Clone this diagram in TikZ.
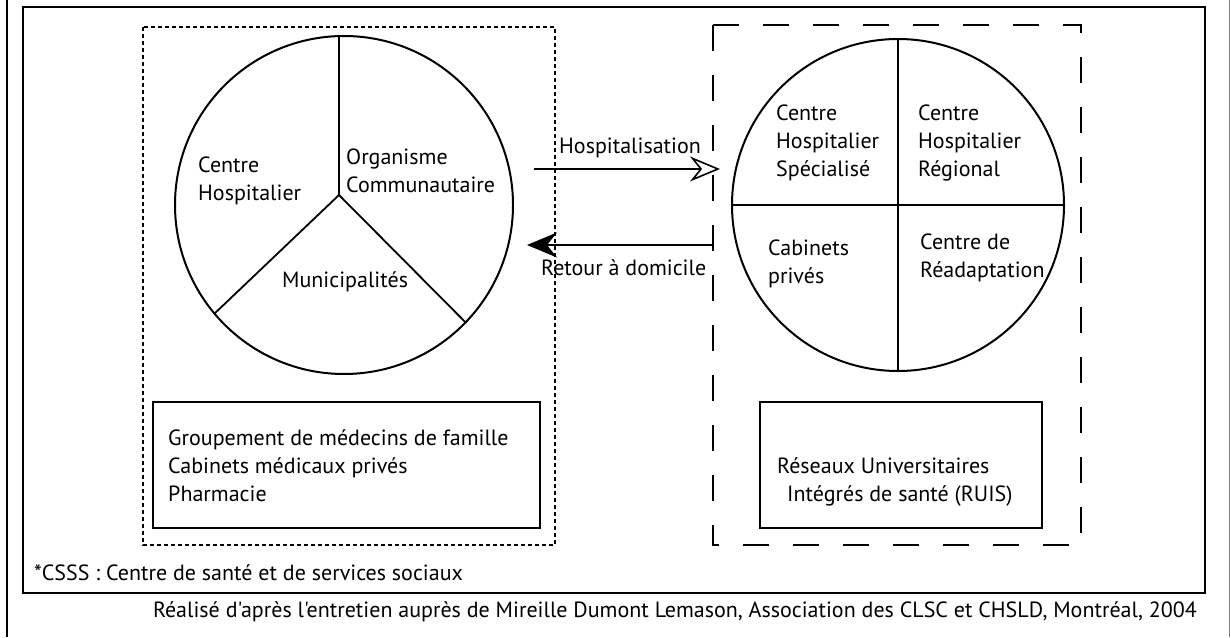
\documentclass[tikz,border=0pt]{standalone}
\usepackage{fontspec}
\newfontfamily\txtfont{PT Sans}
\usetikzlibrary{arrows.meta}
\newcommand{\lblfont}{\txtfont\fontsize{22}{28}\selectfont}
\tikzset{
  frame/.style={line width=2.2pt},
  pie/.style={draw, circle, line width=2pt, inner sep=0pt},
  divider/.style={line width=1.8pt},
  lbl/.style={anchor=west, align=left, inner sep=0pt, font=\lblfont},
  listbox/.style={draw, line width=1.8pt, inner sep=0pt},
  dotbox/.style={line width=2pt, dash pattern=on 4pt off 3pt},
  dashbox/.style={line width=2pt, dash pattern=on 26pt off 24pt},
  flow/.style={line width=2pt},
}
\begin{document}
\begin{tikzpicture}[x=1pt,y=-1pt]
\useasboundingbox (0,0) rectangle (1231,637);
% outer lines
\draw[line width=2pt] (7,0) -- (7,637);
\draw[line width=1pt, gray] (1229.5,0) -- (1229.5,637);
% inner frame
\draw[frame] (23,7) rectangle (1205,593);
% group boxes
\draw[dotbox] (143,27) rectangle (555,545);
\draw[dashbox] (713,25) rectangle (1081,545);
% left pie
\node[pie, minimum size=338pt] (L) at (344,205) {};
\coordinate (J) at (339,195);
\draw[divider] (J) -- (J |- L.north);
\draw[divider] (J) -- (L.220.8);
\draw[divider] (J) -- (L.316);
% right pie
\node[pie, minimum size=332pt] (R) at (898,205) {};
\draw[divider] (R.north) -- (R.south);
\draw[divider] (R.west) -- (R.east);
% labels left pie
\node[lbl] (ch) at (198,181) {Centre\\Hospitalier};
\node[lbl] (oc) at (346,171) {Organisme\\Communautaire};
\node[lbl] (mu) at (282,282) {Municipalités};
% labels right pie
\node[lbl] (chs) at (776,143) {Centre\\Hospitalier\\Spécialisé};
\node[lbl] (chr) at (918,143) {Centre\\Hospitalier\\Régional};
\node[lbl] (cp) at (768,264) {Cabinets\\privés};
\node[lbl] (cr) at (920,258) {Centre de\\Réadaptation};
% arrows
\coordinate (h1) at (534,169);
\coordinate (h2) at (720,169);
\draw[flow, -{Stealth[open, length=30pt, width=25pt, inset=10pt, line width=1.6pt]}] (h1) -- (h2);
\node[lbl] (hosp) at (559,148) {Hospitalisation};
\coordinate (r1) at (713,245);
\coordinate (r2) at (527,245);
\draw[flow, -{Stealth[length=30pt, width=25pt, inset=10pt]}] (r1) -- (r2);
\node[lbl] (ret) at (541,268) {Retour à domicile};
% list boxes
\draw[listbox] (153,402) rectangle (540,528);
\node[lbl] (gmf) at (168,466) {Groupement de médecins de famille\\Cabinets médicaux privés\\Pharmacie};
\draw[listbox] (760,402) rectangle (1042,528);
\node[lbl] (ruis) at (777,482) {Réseaux Universitaires\\\hspace*{10pt}Intégrés de santé (RUIS)};
% notes
\node[lbl] (csss) at (34,573) {*CSSS : Centre de santé et de services sociaux};
\node[lbl, anchor=east] (src) at (1197,612) {Réalisé d'après l'entretien auprès de Mireille Dumont Lemason, Association des CLSC et CHSLD, Montréal, 2004};
\end{tikzpicture}
\end{document}
